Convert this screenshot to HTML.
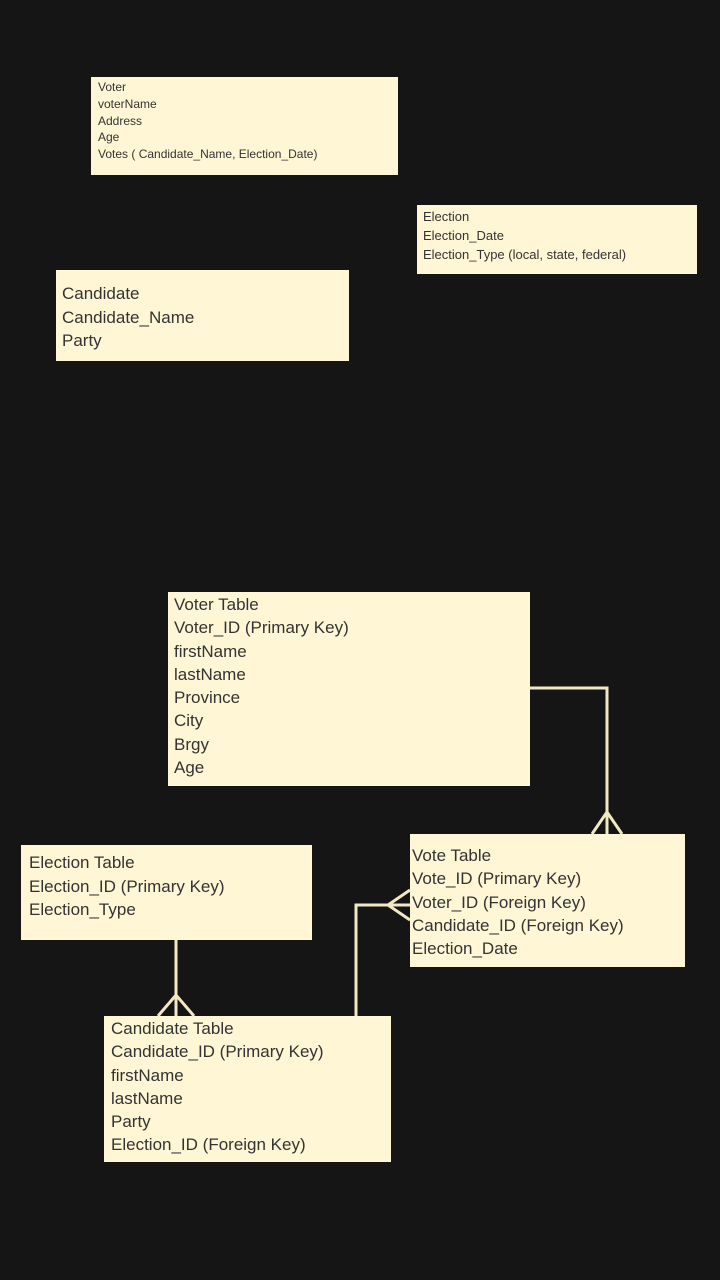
<!DOCTYPE html>
<html><head><meta charset="utf-8"><style>
body{margin:0;width:720px;height:1280px;background:#151515;position:relative;overflow:hidden;font-family:"Liberation Sans",sans-serif;color:#333}
.b{position:absolute;background:#fff6d5;box-sizing:border-box;white-space:nowrap}
</style></head><body>
<div class="b" style="left:91px;top:77px;width:307px;height:98px;padding:2px 7px;font-size:12px;line-height:16.8px">Voter<br>voterName<br>Address<br>Age<br>Votes ( Candidate_Name, Election_Date)</div>
<div class="b" style="left:417px;top:205px;width:280px;height:69px;padding:3px 6px;font-size:13px;line-height:18.8px">Election<br>Election_Date<br>Election_Type (local, state, federal)</div>
<div class="b" style="left:56px;top:270px;width:293px;height:91px;padding:12px 6px;font-size:17px;line-height:23.5px">Candidate<br>Candidate_Name<br>Party</div>
<div class="b" style="left:168px;top:592px;width:362px;height:194px;padding:1px 6px;font-size:17px;line-height:23.3px">Voter Table<br>Voter_ID (Primary Key)<br>firstName<br>lastName<br>Province<br>City<br>Brgy<br>Age</div>
<div class="b" style="left:21px;top:845px;width:291px;height:95px;padding:6px 8px;font-size:17px;line-height:23.5px">Election Table<br>Election_ID (Primary Key)<br>Election_Type</div>
<div class="b" style="left:410px;top:834px;width:275px;height:133px;padding:10px 2px;font-size:17px;line-height:23.3px">Vote Table<br>Vote_ID (Primary Key)<br>Voter_ID (Foreign Key)<br>Candidate_ID (Foreign Key)<br>Election_Date</div>
<div class="b" style="left:104px;top:1016px;width:287px;height:146px;padding:1px 7px;font-size:17px;line-height:23.3px">Candidate Table<br>Candidate_ID (Primary Key)<br>firstName<br>lastName<br>Party<br>Election_ID (Foreign Key)</div>
<svg style="position:absolute;left:0;top:0" width="720" height="1280" fill="none" stroke="#f3e8c4" stroke-width="3">
<polyline points="530,688 607,688 607,834"/>
<polyline points="592,834 607,812 622,834"/>
<polyline points="356,1016 356,905 410,905"/>
<polyline points="410,890 388,905 410,920"/>
<polyline points="176,940 176,1016"/>
<polyline points="158,1016 176,995 194,1016"/>
</svg>
</body></html>
